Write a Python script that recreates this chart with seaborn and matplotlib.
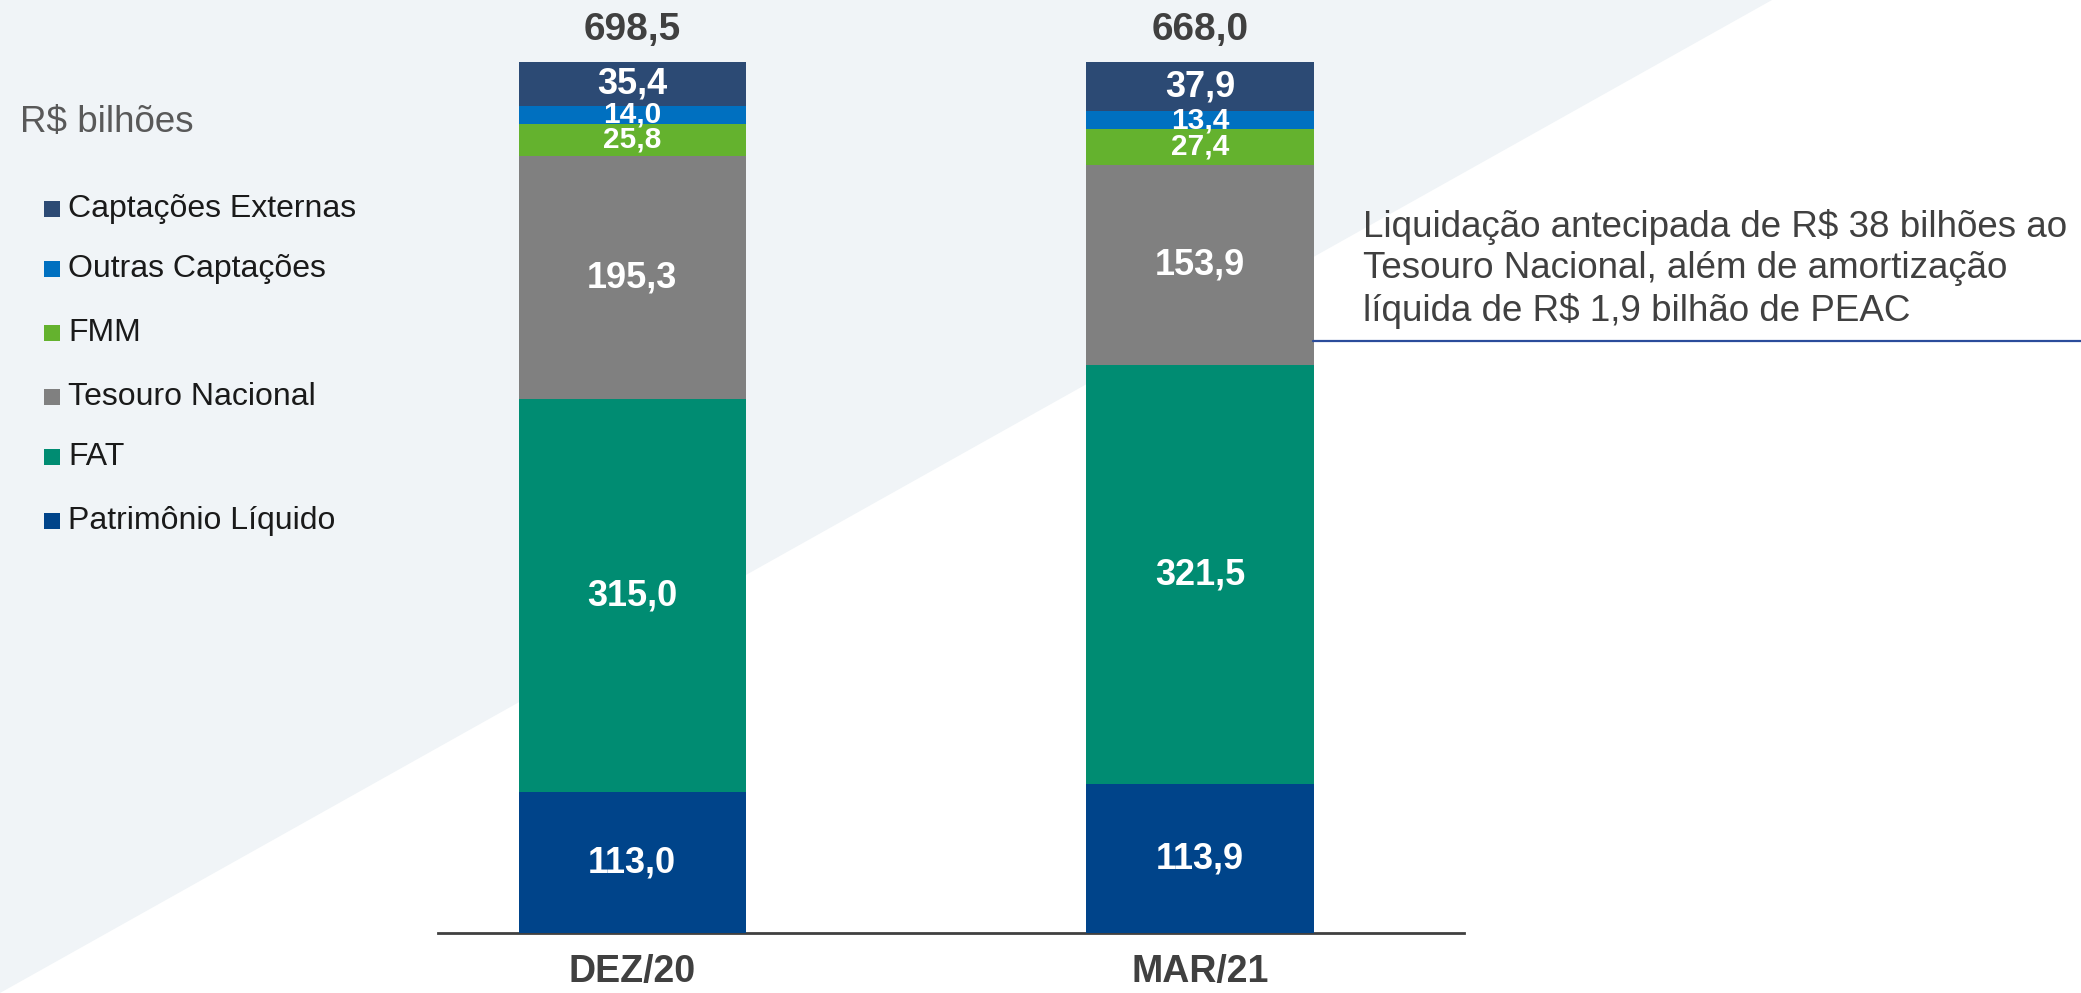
import numpy as np
import pandas as pd
import matplotlib.pyplot as plt
import seaborn as sns
from matplotlib.patches import Polygon, Rectangle

# -----------------------------
# DATA (R$ bilhões)
# -----------------------------
categories = ["DEZ/20", "MAR/21"]
series_names = ["Patrimônio Líquido", "FAT", "Tesouro Nacional", "FMM",
                "Outras Captações", "Captações Externas"]
patrimonio = [113.0, 113.9]
fat = [315.0, 321.5]
tesouro = [195.3, 153.9]
fmm = [25.8, 27.4]
outras = [14.0, 13.4]
externas = [35.4, 37.9]
totals = [698.5, 668.0]

colors = ["#00448A", "#008C72", "#808080", "#64B22E", "#0070C0", "#2C4A74"]
label_sizes = [26, 26, 26, 21.5, 21.5, 26]

note = ("Liquidação antecipada de R$ 38 bilhões ao\n"
        "Tesouro Nacional, além de amortização\n"
        "líquida de R$ 1,9 bilhão de PEAC")

# -----------------------------
# CONFIG
# -----------------------------
sns.set_theme(style="white")
plt.rcParams["font.family"] = ["Liberation Sans", "DejaVu Sans"]

W, H = 2081, 993
fig = plt.figure(figsize=(W / 100, H / 100), dpi=100)
fig.patch.set_facecolor("white")

# light diagonal background panel
fig.add_artist(Polygon([(0, 1), (1772 / W, 1), (0, 0)], closed=True,
                       transform=fig.transFigure, facecolor="#F0F4F7",
                       edgecolor="none", zorder=0))

ax = fig.add_axes([438 / W, 1 - 933 / H, 1026 / W, (933 - 62) / H])
ax.patch.set_alpha(0)

df = pd.DataFrame({"Periodo": categories})
for name, vals in zip(series_names, [patrimonio, fat, tesouro, fmm, outras, externas]):
    df[name] = vals
shares = df[series_names].div(df[series_names].sum(axis=1), axis=0)
cum = shares.cumsum(axis=1)

# stacked 100% bars: draw cumulative heights from the top layer down
for name, color in zip(series_names[::-1], colors[::-1]):
    sns.barplot(x=df["Periodo"], y=cum[name], color=color, saturation=1,
                width=0.4, linewidth=0, edgecolor="none", ax=ax, zorder=2)

# segment labels
for i in range(len(categories)):
    for j, name in enumerate(series_names):
        mid = cum[name].iloc[i] - shares[name].iloc[i] / 2
        txt = f"{df[name].iloc[i]:.1f}".replace(".", ",")
        ax.text(i, mid, txt, ha="center", va="center", color="white",
                fontsize=label_sizes[j], fontweight="bold", zorder=3)
    ax.annotate(f"{totals[i]:.1f}".replace(".", ","), xy=(i, 1.0),
                xytext=(0, 23), textcoords="offset points", ha="center",
                va="center", fontsize=28, fontweight="bold", color="#404040")

ax.set_xlim(-0.342, 1.465)
ax.set_ylim(0, 1)
ax.set_xlabel("")
ax.set_ylabel("")
ax.set_yticks([])
for s in ["top", "right", "left"]:
    ax.spines[s].set_visible(False)
ax.spines["bottom"].set_color("#404040")
ax.spines["bottom"].set_linewidth(2)
ax.spines["bottom"].set_zorder(1)
ax.tick_params(axis="x", length=0, pad=15)
for t in ax.get_xticklabels():
    t.set_fontsize(27)
    t.set_fontweight("bold")
    t.set_color("#404040")

# unit + legend (top layer first)
fig.text(20 / W, 1 - 123 / H, "R$ bilhões", fontsize=26.5, color="#595959",
         va="center", ha="left")
leg_y = [209, 269, 333, 397, 457, 521]
for y, name, color in zip(leg_y, series_names[::-1], colors[::-1]):
    fig.add_artist(Rectangle((44 / W, 1 - (y + 8) / H), 16 / W, 16 / H,
                             transform=fig.transFigure, facecolor=color,
                             edgecolor="none"))
    fig.text(68 / W, 1 - y / H, name, fontsize=23, color="#1A1A1A",
             va="center", ha="left")

# annotation and rule
fig.text(1363 / W, 1 - 269 / H, note, fontsize=26.5, color="#404040",
         va="center", ha="left", linespacing=1.24)
fig.add_artist(plt.Line2D([1313 / W, 1.0], [1 - 341 / H, 1 - 341 / H],
                          transform=fig.transFigure, color="#2B4C9B", lw=1.6))

fig.savefig("out.png", dpi=100)
